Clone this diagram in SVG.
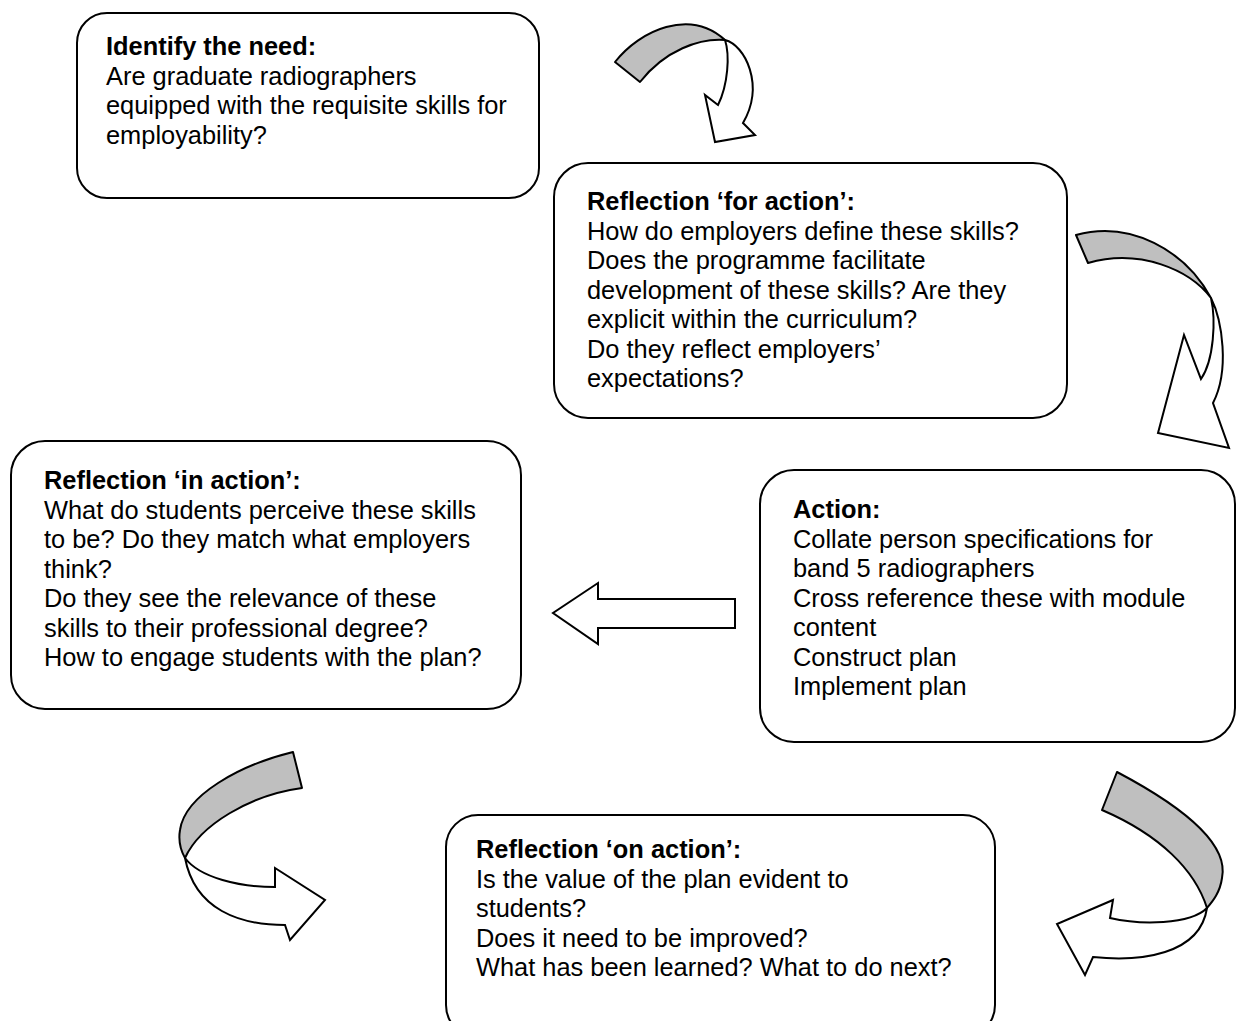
<svg xmlns="http://www.w3.org/2000/svg" width="1236" height="1021" viewBox="0 0 1236 1021">
<style>
.box{fill:#fff;stroke:#000;stroke-width:2}
.t{font-family:"Liberation Sans",Arial,sans-serif;font-size:25.4px;fill:#000}
.b{font-weight:bold}
.g{fill:#bfbfbf;stroke:#000;stroke-width:2;stroke-linejoin:round}
.w{fill:#fff;stroke:#000;stroke-width:2;stroke-linejoin:miter}
</style>
<rect width="1236" height="1021" fill="#fff"/>
<g id="connectors">
  <g id="arrow-need-to-for">
    <path class="w" d="M725,40 C745,45 765,85 743,123 L755,135 L715,142 L705,95 L718,105 C728,85 730,55 725,40 Z"/>
    <path class="g" d="M615,62 C640,30 690,8 725,40 C700,38 665,50 640,82 Z"/>
  </g>
  <g id="arrow-for-to-action">
    <path class="w" d="M1211,298 C1222,320 1230,370 1213,403 L1229,448 L1158,433 L1184,335 L1201,379 C1214,360 1216,320 1211,298 Z"/>
    <path class="g" d="M1076,235 C1130,220 1185,250 1211,298 C1190,270 1140,248 1088,263 Z"/>
  </g>
  <g id="arrow-action-to-in">
    <path class="w" d="M735,599 L598,599 L598,583 L553,613 L598,644 L598,628 L735,628 Z"/>
  </g>
  <g id="arrow-action-to-on">
    <path class="w" d="M1207,908 C1190,925 1140,925 1110,918 L1113,900 L1057,924 L1085,975 L1093,957 C1140,962 1200,955 1207,908 Z"/>
    <path class="g" d="M1117,772 C1170,800 1230,840 1222,878 C1220,893 1212,902 1207,908 C1195,870 1160,835 1102,810 Z"/>
  </g>
  <g id="arrow-in-to-on">
    <path class="w" d="M185,858 C200,878 240,887 275,887 L275,868 L325,900 L290,940 L285,925 C240,925 195,910 185,858 Z"/>
    <path class="g" d="M293,752 C240,765 185,795 180,830 C178,842 181,851 185,858 C200,825 250,795 302,788 Z"/>
  </g>
</g>
<g id="node-identify">
  <rect class="box" x="77" y="13" width="462" height="185" rx="30"/>
  <text class="t" x="106"><tspan class="b" y="55">Identify the need:</tspan><tspan x="106" y="84.5">Are graduate radiographers</tspan><tspan x="106" y="114">equipped with the requisite skills for</tspan><tspan x="106" y="143.5">employability?</tspan></text>
</g>
<g id="node-for-action">
  <rect class="box" x="554" y="163" width="513" height="255" rx="34"/>
  <text class="t" x="587"><tspan class="b" y="210">Reflection ‘for action’:</tspan><tspan x="587" y="239.5">How do employers define these skills?</tspan><tspan x="587" y="269">Does the programme facilitate</tspan><tspan x="587" y="298.5">development of these skills? Are they</tspan><tspan x="587" y="328">explicit within the curriculum?</tspan><tspan x="587" y="357.5">Do they reflect employers’</tspan><tspan x="587" y="387">expectations?</tspan></text>
</g>
<g id="node-in-action">
  <rect class="box" x="11" y="441" width="510" height="268" rx="34"/>
  <text class="t" x="44"><tspan class="b" y="489">Reflection ‘in action’:</tspan><tspan x="44" y="518.5">What do students perceive these skills</tspan><tspan x="44" y="548">to be? Do they match what employers</tspan><tspan x="44" y="577.5">think?</tspan><tspan x="44" y="607">Do they see the relevance of these</tspan><tspan x="44" y="636.5">skills to their professional degree?</tspan><tspan x="44" y="666">How to engage students with the plan?</tspan></text>
</g>
<g id="node-action">
  <rect class="box" x="760" y="470" width="475" height="272" rx="34"/>
  <text class="t" x="793"><tspan class="b" y="518">Action:</tspan><tspan x="793" y="547.5">Collate person specifications for</tspan><tspan x="793" y="577">band 5 radiographers</tspan><tspan x="793" y="606.5">Cross reference these with module</tspan><tspan x="793" y="636">content</tspan><tspan x="793" y="665.5">Construct plan</tspan><tspan x="793" y="695">Implement plan</tspan></text>
</g>
<g id="node-on-action">
  <rect class="box" x="446" y="815" width="549" height="222" rx="32"/>
  <text class="t" x="476"><tspan class="b" y="858">Reflection ‘on action’:</tspan><tspan x="476" y="887.5">Is the value of the plan evident to</tspan><tspan x="476" y="917">students?</tspan><tspan x="476" y="946.5">Does it need to be improved?</tspan><tspan x="476" y="976">What has been learned? What to do next?</tspan></text>
</g>
</svg>
